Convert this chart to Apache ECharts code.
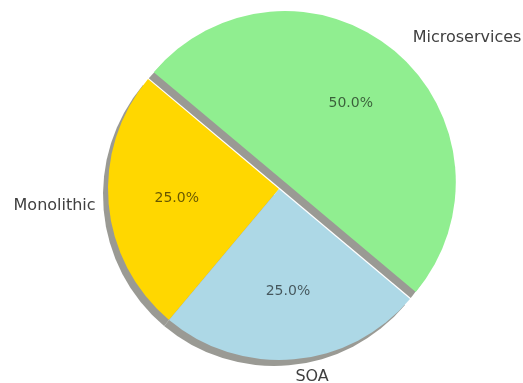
<!DOCTYPE html>
<html>
<head>
<meta charset="utf-8">
<script src="https://cdn.jsdelivr.net/npm/echarts@6/dist/echarts.min.js"></script>
<style>
  html, body { margin: 0; padding: 0; background: #fff; }
  #chart { width: 523px; height: 383px; }
</style>
</head>
<body>
<div id="chart"></div>
<script>
// slices go counter-clockwise from 140deg, like the original
const categories = ['Monolithic', 'SOA', 'Microservices']
const shares = [25, 25, 50]
const exploded = [false, false, true]
const colors = ['#ffd700', '#add8e6', '#90ee90']

const R = 171
const center = [279, 189]
// small nudges so the name labels sit where the original put them
const labelGap = [-4, 0, 7]

const chart = echarts.init(document.getElementById('chart'))

const baseSeries = {
  type: 'pie',
  center: center,
  startAngle: 140,
  clockwise: false,
  selectedMode: 'multiple',
  selectedOffset: 9,
  avoidLabelOverlap: false,
  silent: true,
  animation: false,
  emphasis: { disabled: true }
}

chart.setOption({
  backgroundColor: '#fff',
  series: [
    // wedges + outer name labels (at 1.1 R)
    Object.assign({}, baseSeries, {
      name: 'wedges',
      radius: R,
      label: {
        position: 'outside',
        fontFamily: 'DejaVu Sans',
        fontSize: 16,
        color: '#404040',
        distanceToLabelLine: 0,
        formatter: '{b}'
      },
      labelLine: { show: false, length: R * 0.1, length2: 0 },
      itemStyle: {
        shadowColor: '#9a9a94',
        shadowBlur: 0,
        shadowOffsetX: -5,
        shadowOffsetY: 6
      },
      data: categories.map((name, i) => ({
        name: name,
        value: shares[i],
        selected: exploded[i],
        label: { distanceToLabelLine: labelGap[i] },
        itemStyle: { color: colors[i] },
        select: { itemStyle: { color: colors[i], borderWidth: 0 } }
      }))
    }),
    // invisible ring that only carries the percentage labels (at ~0.6 R)
    Object.assign({}, baseSeries, {
      name: 'pct',
      radius: R * 1.165,
      label: {
        position: 'inside',
        fontFamily: 'DejaVu Sans',
        fontSize: 14,
        color: 'rgba(0,0,0,0.6)',
        formatter: p => p.percent.toFixed(1) + '%'
      },
      labelLine: { show: false },
      itemStyle: { color: 'rgba(0,0,0,0)' },
      data: categories.map((name, i) => ({
        name: name,
        value: shares[i],
        selected: exploded[i],
        select: { itemStyle: { color: 'rgba(0,0,0,0)', borderWidth: 0 } }
      }))
    })
  ]
})
</script>
</body>
</html>
